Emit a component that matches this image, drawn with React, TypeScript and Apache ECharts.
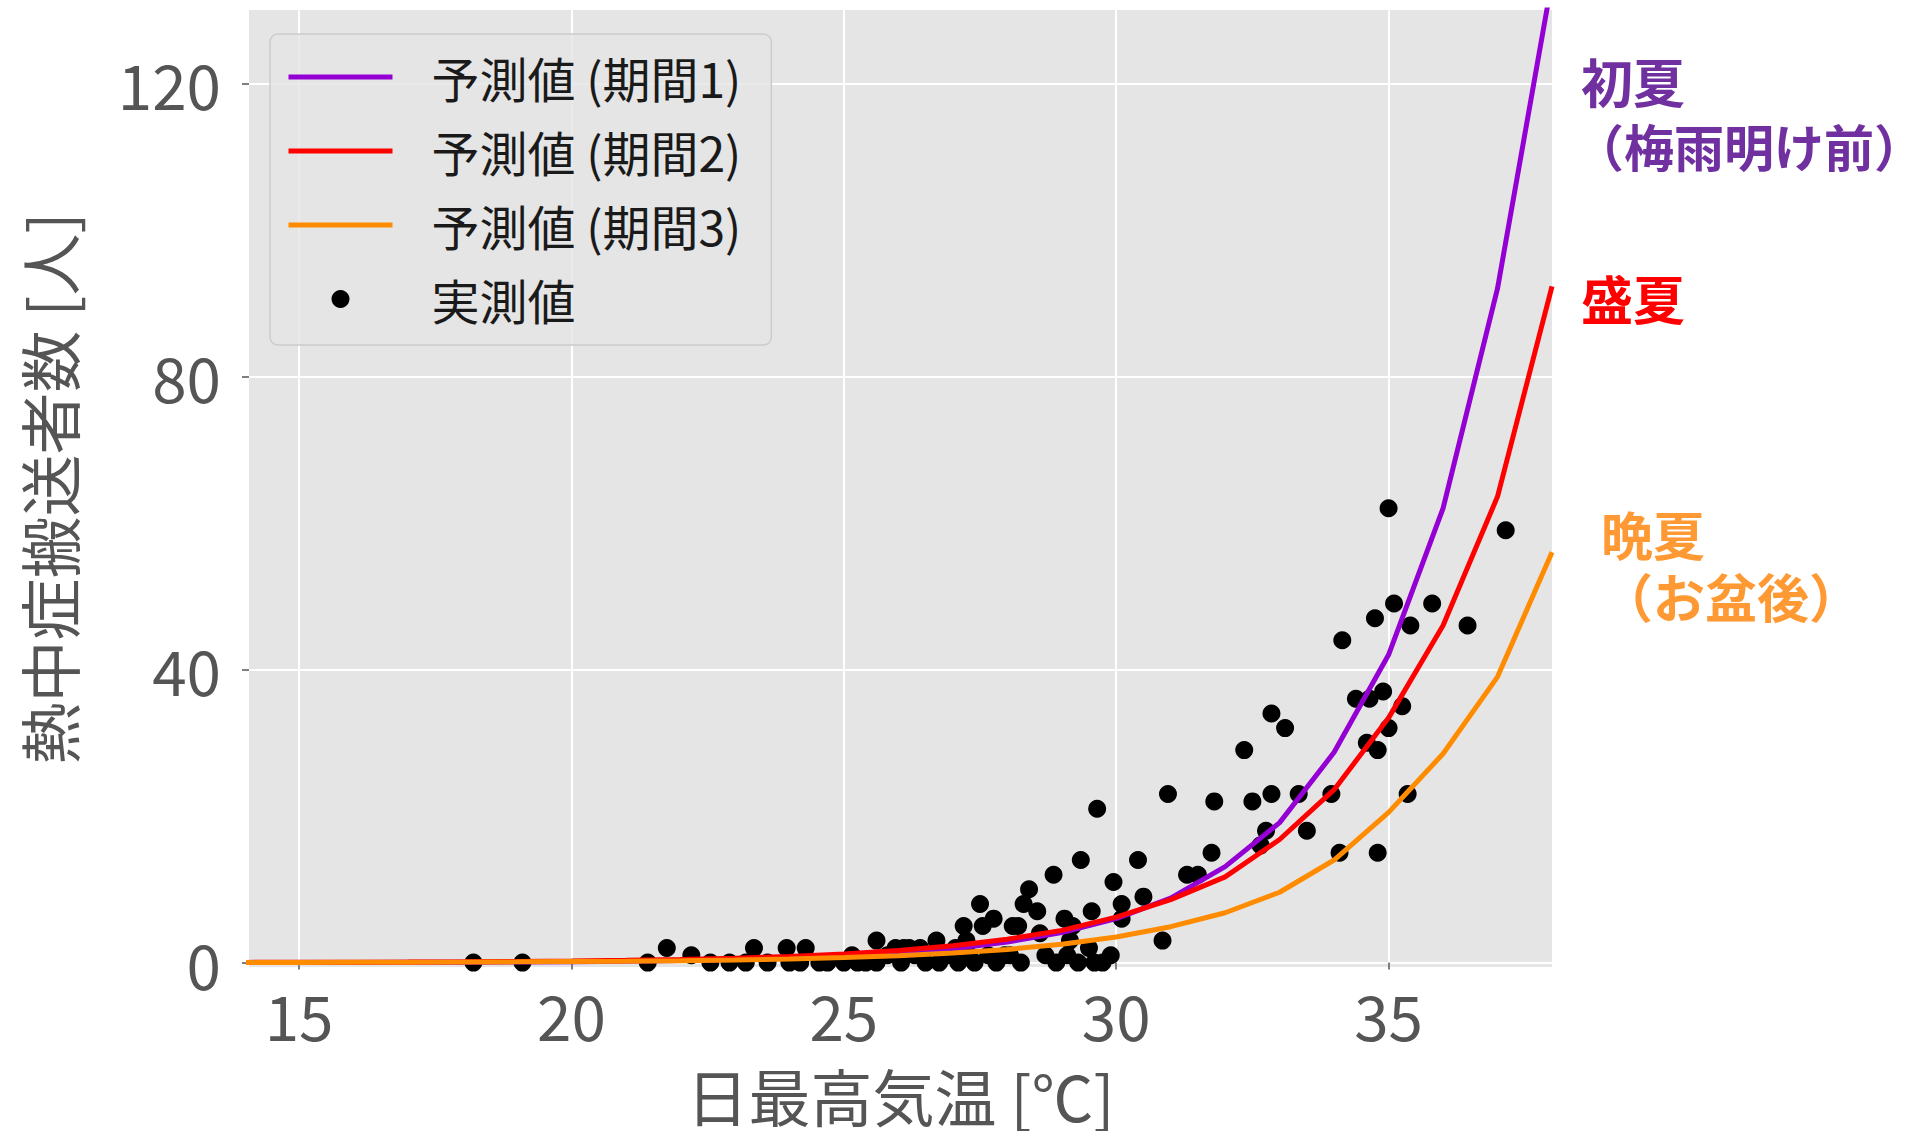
import React, { useEffect, useRef } from 'react';
import * as echarts from 'echarts';

const FONT = '"Noto Sans CJK JP", "Noto Sans", sans-serif';

// Prediction curves (evaluated at integer temperatures)
const lineX = [14, 15, 16, 17, 18, 19, 20, 21, 22, 23, 24, 25, 26, 27, 28, 29, 30, 31, 32, 33, 34, 35, 36, 37, 38];
const period1 = [0.01, 0.02, 0.03, 0.04, 0.06, 0.09, 0.13, 0.19, 0.28, 0.41, 0.6, 0.88, 1.3, 1.9, 2.8, 4.1, 6.0, 8.8, 13.1, 19.1, 28.7, 42, 62, 92, 134];
const period2 = [0.03, 0.04, 0.06, 0.08, 0.11, 0.16, 0.22, 0.31, 0.43, 0.6, 0.84, 1.18, 1.65, 2.3, 3.2, 4.4, 6.2, 8.6, 11.7, 16.8, 23.6, 33.4, 46, 63.6, 92.3];
const period3 = [0.02, 0.03, 0.04, 0.05, 0.07, 0.1, 0.14, 0.19, 0.26, 0.36, 0.5, 0.7, 0.95, 1.3, 1.8, 2.5, 3.5, 4.9, 6.8, 9.6, 14.0, 20.5, 28.5, 39, 56];

// Observed values
const obsX = [
  18.2, 19.1, 21.4, 21.75, 22.2, 22.55, 22.9, 23.2, 23.35, 23.6, 23.95, 24.0, 24.2, 24.3,
  24.55, 24.7, 25.0, 25.15, 25.25, 25.4, 25.6, 25.6, 25.8, 25.95, 26.05, 26.1, 26.2, 26.3,
  26.4, 26.5, 26.7, 26.75, 26.9, 27.0, 27.05, 27.1, 27.2, 27.25, 27.3, 27.4, 27.5, 27.55,
  27.65, 27.75, 27.8, 27.95, 28.05, 28.1, 28.2, 28.25, 28.3, 28.4, 28.55, 28.6, 28.7, 28.85,
  28.9, 29.05, 29.1, 29.15, 29.2, 29.3, 29.35, 29.5, 29.55, 29.6, 29.65, 29.75, 29.9, 29.95,
  30.1, 30.1, 30.4, 30.5, 30.85, 30.95, 31.3, 31.5, 31.75, 31.8, 32.35, 32.5, 32.65, 32.75,
  32.85, 32.85, 33.1, 33.35, 33.5, 33.95, 34.1, 34.15, 34.4, 34.6, 34.65, 34.75, 34.8, 34.8,
  34.9, 35.0, 35.0, 35.1, 35.25, 35.35, 35.4, 35.8, 36.45, 37.15,
];
const obsY = [
  0, 0, 0, 2, 1, 0, 0, 0, 2, 0, 2, 0, 0, 2,
  0, 0, 0, 1, 0, 0, 3, 0, 1, 2, 0, 2, 2, 1,
  2, 0, 3, 0, 1, 1, 2, 0, 5, 3, 1, 0, 8, 5,
  1, 6, 0, 1, 1, 5, 5, 0, 8, 10, 7, 4, 1, 12,
  0, 6, 1, 3, 5, 0, 14, 2, 7, 0, 21, 0, 1, 11,
  8, 6, 14, 9, 3, 23, 12, 12, 15, 22, 29, 22, 16, 18,
  23, 34, 32, 23, 18, 23, 15, 44, 36, 30, 36, 47, 29, 15,
  37, 62, 32, 49, 35, 23, 46, 49, 46, 59,
];

const xTicks = [15, 20, 25, 30, 35];
const yTicks = [0, 40, 80, 120];
const seriesNames = ['予測値 (期間1)', '予測値 (期間2)', '予測値 (期間3)', '実測値'];
const lineColors = ['#9400D3', '#FF0000', '#FF8C00'];
const annotationLines = ['初夏', '（梅雨明け前）', '盛夏', '晩夏', '（お盆後）'];
const purpleText = '#7030A0';
const redText = '#FF0000';
const orangeText = '#FF9933';

export default function App() {
  const ref = useRef<HTMLDivElement>(null);

  useEffect(() => {
    if (!ref.current) return;
    const chart = echarts.init(ref.current, undefined, { renderer: 'svg' });
    const curves = [period1, period2, period3];

    const txt = (text: string, x: number, cy: number, color: string, size: number) => ({
      type: 'text', x, y: cy,
      style: { text, fill: color, font: `bold ${size}px ${FONT}`, align: 'left', verticalAlign: 'middle' },
    });

    const option: any = {
      animation: false,
      textStyle: { fontFamily: FONT },
      grid: {
        left: 249, right: 372, top: 10, bottom: 161,
        show: true, backgroundColor: '#E5E5E5', borderWidth: 0,
      },
      xAxis: {
        type: 'value', min: 14.08, max: 38,
        axisLine: { show: false },
        axisTick: { show: true, length: 7, customValues: xTicks, lineStyle: { color: '#555555', width: 1.5 } },
        axisLabel: { customValues: xTicks, fontSize: 62, color: '#555555', margin: 16, fontFamily: FONT },
        splitLine: { show: true, lineStyle: { color: '#ffffff', width: 2 } },
        name: '日最高気温 [℃]', nameLocation: 'middle', nameGap: 97,
        nameTextStyle: { fontSize: 62, lineHeight: 62, color: '#555555', fontFamily: FONT },
      },
      yAxis: {
        type: 'value', min: -0.6, max: 130,
        axisLine: { show: false },
        axisTick: { show: true, length: 7, customValues: yTicks, lineStyle: { color: '#555555', width: 1.5 } },
        axisLabel: { customValues: yTicks, fontSize: 62, color: '#555555', margin: 28, fontFamily: FONT },
        splitLine: { show: true, lineStyle: { color: '#ffffff', width: 2 } },
        name: '熱中症搬送者数 [人]', nameLocation: 'middle', nameGap: 170, nameRotate: 90,
        nameTextStyle: { fontSize: 62, lineHeight: 62, color: '#555555', fontFamily: FONT },
      },
      legend: {
        orient: 'vertical', left: 270, top: 34,
        padding: [15, 30, 18, 16],
        itemWidth: 104, itemHeight: 18, itemGap: 18,
        backgroundColor: 'rgba(229,229,229,0.8)', borderColor: '#cccccc', borderWidth: 1.5, borderRadius: 8,
        textStyle: { fontSize: 48, color: '#1a1a1a', lineHeight: 56, padding: [0, 0, 0, 34], fontFamily: FONT },
        lineStyle: { width: 5 },
        data: [
          { name: seriesNames[0], itemStyle: { opacity: 0 } },
          { name: seriesNames[1], itemStyle: { opacity: 0 } },
          { name: seriesNames[2], itemStyle: { opacity: 0 } },
          { name: seriesNames[3], icon: 'circle', itemStyle: { opacity: 1, color: '#000000' } },
        ],
      },
      series: [
        {
          name: seriesNames[3], type: 'scatter', z: 1,
          symbol: 'circle', symbolSize: 18,
          itemStyle: { color: '#000000', opacity: 1 },
          data: obsX.map((x, i) => [x, obsY[i]]),
        },
        ...curves.map((c, k) => ({
          name: seriesNames[k], type: 'line', z: 3,
          symbol: 'none', clip: true,
          lineStyle: { width: 5, color: lineColors[k] },
          itemStyle: { color: lineColors[k] },
          data: lineX.map((x, i) => [x, c[i]]),
        })),
      ],
      graphic: [
        txt(annotationLines[0], 1581, 80, purpleText, 52),
        txt(annotationLines[1], 1574, 145, purpleText, 50),
        txt(annotationLines[2], 1581, 297, redText, 52),
        txt(annotationLines[3], 1601, 533, orangeText, 52),
        txt(annotationLines[4], 1601, 595, orangeText, 52),
      ],
    };

    chart.setOption(option);
    return () => chart.dispose();
  }, []);

  return (
    <div
      ref={ref}
      style={{ position: 'absolute', left: 0, top: 0, width: 1924, height: 1131, background: '#ffffff' }}
    />
  );
}
